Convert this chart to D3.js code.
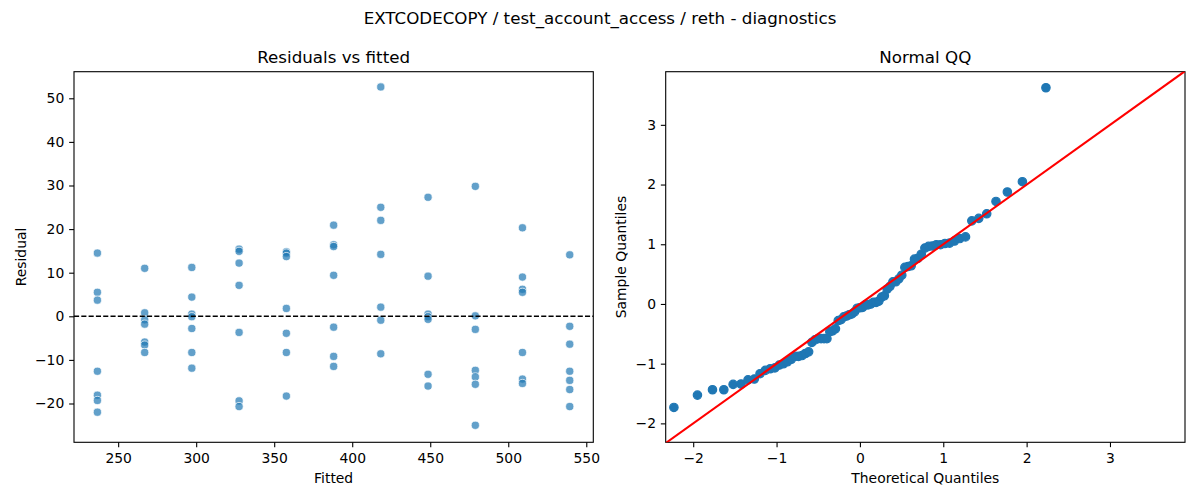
<!DOCTYPE html>
<html><head><meta charset="utf-8">
<script src="https://cdn.jsdelivr.net/npm/d3@7"></script>
<style>
body{margin:0;background:#fff}
text{font-family:"DejaVu Sans",sans-serif;fill:#000}
</style>
</head><body>
<svg id="chart" width="1200" height="500"></svg>
<script>
// ---- data ----
const fitted = [236.7, 267.0, 297.2, 327.5, 357.8, 388.1, 418.3, 448.6, 478.9, 509.1, 539.4];
const residuals = [
  [14.5, 5.5, 3.7, -12.6, -18.1, -19.3, -22.0],
  [11.0, 0.8, -0.8, -1.8, -5.9, -6.6, -8.3],
  [11.2, 4.4, 0.5, -0.1, -2.8, -8.3, -11.9],
  [15.4, 14.9, 12.2, 7.1, -3.7, -19.4, -20.7],
  [14.8, 14.5, 13.7, 1.8, -3.9, -8.3, -18.3],
  [20.9, 16.4, 16.0, 9.4, -2.5, -9.2, -11.5],
  [52.6, 25.0, 22.0, 14.2, 2.1, -0.9, -8.6],
  [27.3, 9.2, 0.5, -0.1, -0.7, -13.3, -16.0],
  [29.8, 0.1, -3.0, -12.4, -13.9, -15.6, -25.0],
  [20.3, 9.0, 6.2, 5.5, -8.3, -14.4, -15.4],
  [14.1, -2.3, -6.4, -12.6, -14.7, -16.8, -20.7]
];
const fittedTicks = [250, 300, 350, 400, 450, 500, 550];
const residualTicks = [-20, -10, 0, 10, 20, 30, 40, 50];
const qqXTicks = [-2, -1, 0, 1, 2, 3];
const qqYTicks = [-2, -1, 0, 1, 2, 3];
const suptitle = "EXTCODECOPY / test_account_access / reth - diagnostics";
const titles = ["Residuals vs fitted", "Normal QQ"];

// ---- helpers ----
function normInv(p){
  const a=[-3.969683028665376e+01,2.209460984245205e+02,-2.759285104469687e+02,1.383577518672690e+02,-3.066479806614716e+01,2.506628277459239e+00];
  const b=[-5.447609879822406e+01,1.615858368580409e+02,-1.556989798598866e+02,6.680131188771972e+01,-1.328068155288572e+01];
  const c=[-7.784894002430293e-03,-3.223964580411365e-01,-2.400758277161838e+00,-2.549732539343734e+00,4.374664141464968e+00,2.938163982698783e+00];
  const d=[7.784695709041462e-03,3.224671290700398e-01,2.445134137142996e+00,3.754408661907416e+00];
  const pl=0.02425; let q,r;
  if(p<pl){q=Math.sqrt(-2*Math.log(p));return (((((c[0]*q+c[1])*q+c[2])*q+c[3])*q+c[4])*q+c[5])/((((d[0]*q+d[1])*q+d[2])*q+d[3])*q+1);}
  if(p>1-pl){q=Math.sqrt(-2*Math.log(1-p));return -(((((c[0]*q+c[1])*q+c[2])*q+c[3])*q+c[4])*q+c[5])/((((d[0]*q+d[1])*q+d[2])*q+d[3])*q+1);}
  q=p-0.5;r=q*q;return (((((a[0]*r+a[1])*r+a[2])*r+a[3])*r+a[4])*r+a[5])*q/(((((b[0]*r+b[1])*r+b[2])*r+b[3])*r+b[4])*r+1);
}

const svg = d3.select("#chart");
const C0 = "#1f77b4";
const TICK = 4.86, PAD = 4.86, TFS = "13.9px";
const fmt = d3.format("d");

const L = {x0:74, x1:593.3, y0:71.7, y1:442.3};
const R = {x0:665.7, x1:1185, y0:71.7, y1:442.3};

svg.append("text").attr("x",600).attr("y",24).attr("text-anchor","middle")
  .style("font-size","16.7px").text(suptitle);

function frame(A, title){
  svg.append("rect").attr("x",A.x0).attr("y",A.y0).attr("width",A.x1-A.x0).attr("height",A.y1-A.y0)
    .attr("fill","none").attr("stroke","#000").attr("stroke-width",1.1);
  svg.append("text").attr("x",(A.x0+A.x1)/2).attr("y",62.5).attr("text-anchor","middle")
    .style("font-size","16.7px").text(title);
}
function axes(A, xs, ys, xt, yt, xlab, ylab, ylabX){
  const gx = svg.append("g").attr("transform",`translate(0,${A.y1})`)
    .call(d3.axisBottom(xs).tickValues(xt).tickFormat(fmt).tickSize(TICK).tickPadding(PAD).tickSizeOuter(0));
  const gy = svg.append("g").attr("transform",`translate(${A.x0},0)`)
    .call(d3.axisLeft(ys).tickValues(yt).tickFormat(fmt).tickSize(TICK).tickPadding(PAD).tickSizeOuter(0));
  [gx,gy].forEach(g=>{
    g.select(".domain").remove();
    g.selectAll(".tick line").attr("stroke","#000").attr("stroke-width",1.1);
    g.selectAll(".tick text").style("font-size",TFS).style("font-family",'"DejaVu Sans",sans-serif').attr("fill","#000");
  });
  gx.selectAll(".tick text").attr("dy","0.78em");
  svg.append("text").attr("x",(A.x0+A.x1)/2).attr("y",482.5).attr("text-anchor","middle")
    .style("font-size",TFS).text(xlab);
  svg.append("text").attr("transform",`translate(${ylabX},${(A.y0+A.y1)/2}) rotate(-90)`)
    .attr("text-anchor","middle").style("font-size",TFS).text(ylab);
}

// ---- left panel: residuals vs fitted ----
const xL = d3.scaleLinear().domain([221.7, 554.5]).range([L.x0, L.x1]);
const yL = d3.scaleLinear().domain([-28.9, 56.1]).range([L.y1, L.y0]);
const pts = [];
fitted.forEach((f,i)=>residuals[i].forEach(r=>pts.push({f, r})));

frame(L, titles[0]);
svg.append("g").selectAll("circle").data(pts).join("circle")
  .attr("cx",d=>xL(d.f)).attr("cy",d=>yL(d.r)).attr("r",4.1)
  .attr("fill",C0).attr("fill-opacity",0.7)
  .attr("stroke","#fff").attr("stroke-opacity",0.7).attr("stroke-width",1);
svg.append("line").attr("x1",L.x0).attr("x2",L.x1).attr("y1",yL(0)).attr("y2",yL(0))
  .attr("stroke","#000").attr("stroke-width",1.39).attr("stroke-dasharray","5.1,2.2");
axes(L, xL, yL, fittedTicks, residualTicks, "Fitted", "Residual", 26);

// ---- right panel: normal QQ ----
const allRes = pts.map(d=>d.r).sort(d3.ascending);
const n = allRes.length;
const mu = d3.mean(allRes), sd = d3.deviation(allRes);
const qq = allRes.map((r,i)=>({t: normInv((i+1)/(n+1)), s: (r-mu)/sd}));
const qlim = [-2.33, 3.9];
const xR = d3.scaleLinear().domain(qlim).range([R.x0, R.x1]);
const yR = d3.scaleLinear().domain([-2.317, 3.89]).range([R.y1, R.y0]);

frame(R, titles[1]);
svg.append("clipPath").attr("id","clipR").append("rect")
  .attr("x",R.x0).attr("y",R.y0).attr("width",R.x1-R.x0).attr("height",R.y1-R.y0);
svg.append("g").selectAll("circle").data(qq).join("circle")
  .attr("cx",d=>xR(d.t)).attr("cy",d=>yR(d.s)).attr("r",4.2)
  .attr("fill",C0).attr("stroke",C0).attr("stroke-width",1.2);
svg.append("line").attr("clip-path","url(#clipR)")
  .attr("x1",xR(qlim[0])).attr("y1",yR(qlim[0])).attr("x2",xR(qlim[1])).attr("y2",yR(qlim[1]))
  .attr("stroke","#ff0000").attr("stroke-width",2.08);
axes(R, xR, yR, qqXTicks, qqYTicks, "Theoretical Quantiles", "Sample Quantiles", 626);
</script>
</body></html>
